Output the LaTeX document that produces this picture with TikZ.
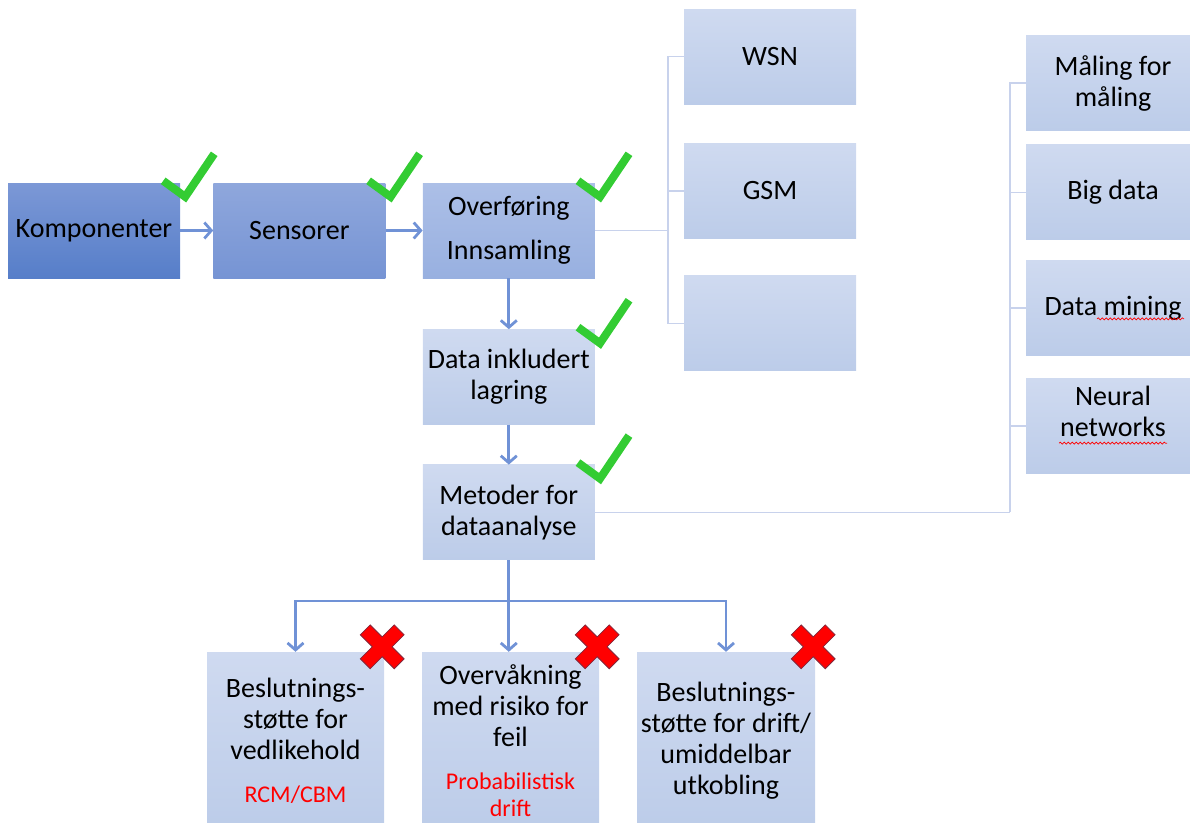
\documentclass[tikz,border=0pt]{standalone}
\usepackage{fontspec}
\setmainfont{Carlito}
\usepackage{tikz}
\usetikzlibrary{arrows.meta,positioning,calc,decorations.pathmorphing}
\definecolor{komtop}{RGB}{124,152,214}
\definecolor{kombot}{RGB}{86,126,201}
\definecolor{sentop}{RGB}{143,167,220}
\definecolor{senbot}{RGB}{118,148,212}
\definecolor{ovtop}{RGB}{172,191,231}
\definecolor{ovbot}{RGB}{152,176,224}
\definecolor{paletop}{RGB}{207,218,240}
\definecolor{palebot}{RGB}{188,204,233}
\definecolor{arrowblue}{RGB}{112,146,214}
\definecolor{linkblue}{RGB}{200,210,236}
\definecolor{okgreen}{RGB}{51,204,51}
\definecolor{nored}{RGB}{255,0,0}
\definecolor{noedge}{RGB}{130,40,60}

\begin{document}
\begin{tikzpicture}[x=1pt,y=-1pt,
  box/.style={minimum width=172pt,minimum height=95pt,inner sep=2pt,align=center,
    font=\fontsize{28}{31}\selectfont},
  pale/.style={box,top color=paletop,bottom color=palebot},
  arr/.style={arrowblue,line width=2.8pt,-{Straight Barb[length=7pt,width=16pt]}},
  thinlink/.style={linkblue,line width=1.5pt},
  okmark/.style={okgreen,line width=8pt},
  nomark/.style={fill=nored,draw=noedge,line width=0.8pt},
  squiggle/.style={red,line width=0.7pt,decorate,decoration={snake,segment length=4pt,amplitude=1pt}}]
  \useasboundingbox (0,0) rectangle (1190,822);
  \node[box,top color=komtop,bottom color=kombot] (komp) at (94,230.5) {Komponenter};
  \node[box,top color=sentop,bottom color=senbot,right=33pt of komp] (sens) {Sensorer};
  \node[box,top color=ovtop,bottom color=ovbot,right=37pt of sens] (overf) {Overføring\\[13pt]Innsamling};
  \node[pale,below=51pt of overf] (data) {Data inkludert\\lagring};
  \node[pale,below=40pt of data] (metod) {Metoder for\\dataanalyse};
  \node[pale] (wsn) at (770,56.5) {WSN};
  \node[pale,below=39pt of wsn] (gsm) {GSM};
  \node[pale,below=37pt of gsm] (spare) {};
  \node[pale,minimum width=174pt] (maal) at (1113,83) {Måling for\\måling};
  \node[pale,minimum width=174pt,below=14pt of maal] (big) {Big data};
  \node[pale,minimum width=174pt,below=20pt of big] (mining) {Data mining};
  \node[pale,minimum width=174pt,below=23pt of mining,text depth=29pt] (neural) {Neural\\networks};
  \node[pale,minimum width=177pt,minimum height=178pt] (dec1) at (295.5,741)
    {Beslutnings-\\støtte for\\vedlikehold\\[12pt]{\color{red}\fontsize{24}{27}\selectfont RCM/CBM}};
  \node[pale,minimum width=177pt,minimum height=178pt] (monit) at (510.5,741)
    {Overvåkning\\med risiko for\\feil\\[12pt]{\color{red}\fontsize{24}{27}\selectfont Probabilistisk}\\[-4pt]{\color{red}\fontsize{24}{27}\selectfont drift}};
  \node[pale,minimum width=178pt,minimum height=178pt] (dec3) at (726,741)
    {Beslutnings-\\støtte for drift/\\umiddelbar\\utkobling};

  \draw[arr] (komp) -- (sens);
  \draw[arr] (sens) -- (overf);
  \draw[arr] (overf) -- (data);
  \draw[arr] (data) -- (metod);
  \coordinate (split) at ($(metod.south)+(0,41)$);
  \draw[arr] (metod.south) -- (split) -| (dec1.north);
  \draw[arr] (split) -| (dec3.north);
  \draw[arr] (metod.south) -- (metod.south |- monit.north);

  \coordinate (ojunc) at ($(overf.east -| wsn.west)+(-16,0)$);
  \draw[thinlink] (overf.east) -- (ojunc);
  \foreach \n in {wsn,gsm,spare} \draw[thinlink] (ojunc) |- (\n.west);
  \coordinate (mjunc) at ($(metod.east -| maal.west)+(-16,0)$);
  \draw[thinlink] (metod.east) -- (mjunc);
  \foreach \n in {maal,big,mining,neural} \draw[thinlink] (mjunc) |- (\n.west);

  \draw[squiggle] ($(mining.center)+(-16,11)$) -- ++(87,0);
  \draw[squiggle] ($(neural.center)+(-54,17)$) -- ++(108,0);

  \foreach \n in {komp,sens,overf,data,metod}
    \draw[okmark] ($(\n.north east)+(-17,-2)$) -- ++(22,16) -- ++(29,-43);
  \foreach \n in {dec1,monit,dec3}
    \draw[nomark,shift={($(\n.north east)+(-2,-5)$)},rotate=45]
      (7,7) -- (24,7) -- (24,-7) -- (7,-7) -- (7,-24) -- (-7,-24) -- (-7,-7)
      -- (-24,-7) -- (-24,7) -- (-7,7) -- (-7,24) -- (7,24) -- cycle;
\end{tikzpicture}
\end{document}
